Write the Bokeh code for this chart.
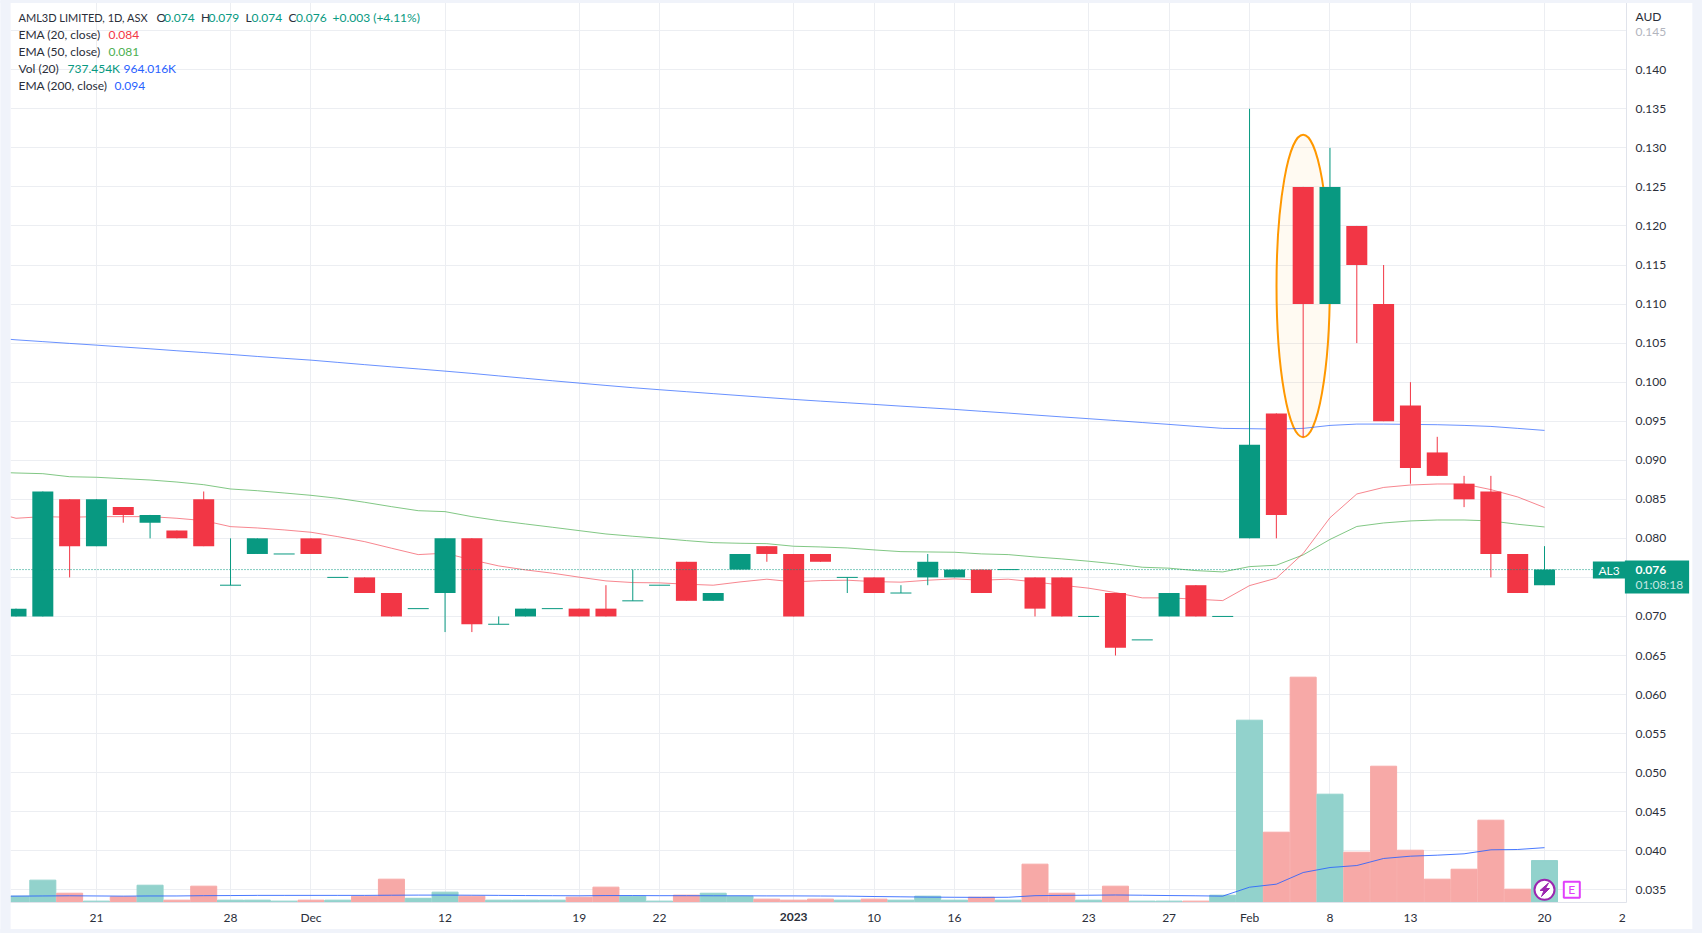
from bokeh.plotting import figure
from bokeh.embed import file_html
from bokeh.resources import INLINE
from bokeh.models import (Range1d, FixedTicker, Label, Span, ColumnDataSource)
from bokeh.core.properties import value

# ---------- data ----------
opens = [.070,.070,.085,.079,.084,.082,.081,.085,.074,.078,.078,.080,.075,.075,.073,.071,.073,.080,.069,.070,
         .071,.071,.071,.072,.074,.077,.072,.076,.079,.078,.078,.075,.075,.073,.075,.075,.076,.076,.075,.075,
         .070,.073,.067,.070,.074,.070,.080,.096,.125,.110,.120,.110,.097,.091,.087,.086,.078,.074]
closes = [.071,.086,.079,.085,.083,.083,.080,.079,.074,.080,.078,.078,.075,.073,.070,.071,.080,.069,.069,.071,
          .071,.070,.070,.072,.074,.072,.073,.078,.078,.070,.077,.075,.073,.073,.077,.076,.073,.076,.071,.070,
          .070,.066,.067,.073,.070,.070,.092,.083,.110,.125,.115,.095,.089,.088,.085,.078,.073,.076]
highs = [.071,.086,.085,.085,.084,.083,.081,.086,.080,.080,.078,.080,.075,.075,.073,.071,.080,.080,.070,.071,
         .071,.071,.074,.076,.074,.077,.073,.078,.079,.078,.078,.075,.075,.074,.078,.076,.076,.076,.075,.075,
         .070,.073,.067,.073,.074,.070,.135,.096,.125,.130,.120,.115,.100,.093,.088,.088,.078,.079]
lows = [.070,.070,.075,.079,.082,.080,.080,.079,.074,.078,.078,.078,.075,.073,.070,.071,.068,.068,.069,.070,
        .071,.070,.070,.072,.074,.072,.072,.076,.077,.070,.077,.073,.073,.073,.074,.075,.073,.076,.070,.070,
        .070,.065,.067,.070,.070,.070,.080,.080,.093,.110,.105,.095,.087,.088,.084,.075,.073,.074]
volumes_k = [111,393,163,24,99,304,41,287,41,41,24,41,41,111,410,74,182,111,41,41,41,93,270,111,24,129,163,111,
             59,41,59,41,59,41,111,41,93,41,674,163,41,287,24,24,24,128,3205,1236,3961,1904,884,2396,919,410,
             585,1447,234,737]
vol_colors = ["u","u","d","u","d","u","d","d","u","u","u","d","u","d","d","u","u","d","u","u","u","d","d","u",
              "u","d","u","u","d","d","d","u","d","u","u","u","d","u","d","d","u","d","u","u","d","u","u","d",
              "d","u","d","d","d","d","d","d","d","u"]
# the line series start one session before the first visible candle
ema20 = [.0835,.08257,.08278,.08270,.08278,.08278,.08278,.08257,.08227,.08150,.08133,.08108,.08078,.08022,.07958,
         .07874,.07792,.07810,.07724,.07647,.07596,.07554,.07503,.07455,.07434,.07430,.07413,.07400,.07442,.07477,
         .07442,.07459,.07464,.07446,.07439,.07464,.07481,.07464,.07477,.07442,.07400,.07362,.07306,.07238,.07238,
         .07221,.07203,.07395,.07490,.07806,.08264,.08568,.08652,.08683,.08696,.08696,.08624,.08530,.08395]
ema50 = [.0885,.08837,.08828,.08789,.08782,.08764,.08747,.08721,.08687,.08632,.08610,.08581,.08551,.08513,.08462,
         .08406,.08354,.08342,.08278,.08227,.08184,.08142,.08099,.08056,.08027,.08001,.07971,.07945,.07937,.07932,
         .07899,.07890,.07877,.07852,.07830,.07826,.07822,.07801,.07792,.07762,.07737,.07707,.07673,.07630,.07618,
         .07587,.07570,.07638,.07656,.07788,.07986,.08152,.08197,.08223,.08235,.08235,.08223,.08180,.08146]
ema200 = [.1057,.10542,.10519,.10496,.10474,.10450,.10427,.10402,.10379,.10355,.10329,.10305,.10282,.10253,.10224,
          .10196,.10169,.10141,.10112,.10080,.10049,.10018,.09988,.09958,.09929,.09903,.09878,.09853,.09828,.09803,
          .09779,.09757,.09736,.09715,.09693,.09672,.09651,.09627,.09604,.09579,.09555,.09532,.09508,.09483,.09459,
          .09433,.09408,.09404,.09399,.09408,.09446,.09463,.09463,.09459,.09455,.09446,.09433,.09408,.09382]
vol_ma_k = [110,112,115,118,115,112,115,115,120,122,125,125,125,125,125,128,130,130,128,125,122,120,118,122,122,
            120,120,118,118,116,116,114,112,105,100,95,92,90,92,120,125,128,132,128,122,118,112,269,322,527,615,
            650,774,814,832,856,926,932,964]
price_ticks = [.035,.040,.045,.050,.055,.060,.065,.070,.075,.080,.085,.090,.095,.100,.105,.110,.115,.120,.125,.130,.135,.140,.145]
time_tick_idx = [3,8,11,16,21,24,29,32,35,40,43,46,49,52,57]
time_tick_txt = ["21","28","Dec","12","19","22","2023","10","16","23","27","Feb","8","13","20"]

# ---------- scales: page pixels -> data ----------
BAR = 26.816
PXP = 7810.0
def dx(px): return (px - 15.5) / BAR
def dy(py): return 0.135 - (py - 108.3) / PXP

GREEN, RED = "#089981", "#f23645"
GRID = "#f0f3fa"; GRIDLINE = "#eceef2"; EDGE = "#e0e3eb"; INK = "#2a2e39"
FONT = "Lato"

p = figure(width=1702, height=933, frame_width=1616, frame_height=900,
           min_border_left=10, min_border_right=0, min_border_top=2, min_border_bottom=0,
           x_range=Range1d(dx(10), dx(1626)), y_range=Range1d(dy(902), dy(2)),
           y_axis_location="right", output_backend="svg", toolbar_location=None,
           border_fill_color="white", background_fill_color="white")
p.outline_line_color = None
p.extra_y_ranges = {"vol": Range1d(0, 900 * 17.58)}

p.ygrid.ticker = FixedTicker(ticks=price_ticks)
p.xgrid.ticker = FixedTicker(ticks=time_tick_idx)
p.ygrid.grid_line_color = GRIDLINE
p.xgrid.grid_line_color = GRIDLINE

ax = p.yaxis[0]
ax.ticker = FixedTicker(ticks=price_ticks[:-1])
ax.major_label_overrides = {t: f"{t:.3f}" for t in price_ticks[:-1]}
ax.major_tick_line_color = None; ax.minor_tick_line_color = None
ax.major_tick_out = 0; ax.major_tick_in = 0; ax.minor_tick_out = 0
ax.axis_line_color = EDGE
ax.major_label_standoff = 9
ax.major_label_text_font = FONT; ax.major_label_text_font_size = "12px"; ax.major_label_text_color = INK

bx = p.xaxis[0]
tick_vals = [i for i, t in zip(time_tick_idx, time_tick_txt) if t != "2023"] + [59.9]
bx.ticker = FixedTicker(ticks=tick_vals)
ov = {i: t for i, t in zip(time_tick_idx, time_tick_txt) if t != "2023"}
ov[59.9] = "2"
bx.major_label_overrides = ov
bx.major_tick_line_color = None; bx.minor_tick_line_color = None
bx.major_tick_out = 0; bx.major_tick_in = 0; bx.minor_tick_out = 0
bx.axis_line_color = EDGE
bx.major_label_standoff = 7
bx.major_label_text_font = FONT; bx.major_label_text_font_size = "12px"; bx.major_label_text_color = INK

# ---------- volume ----------
xs = list(range(len(opens)))
vsrc = ColumnDataSource(dict(x=xs, top=volumes_k,
        c=["#92d2cc" if v == "u" else "#f7a9a7" for v in vol_colors]))
p.vbar(x="x", top="top", bottom=0, width=0.97, color="c", source=vsrc, y_range_name="vol")

# ---------- marker ellipse behind the candles ----------
p.ellipse(x=[48], y=[dy(285.5)], width=[53.3 / BAR], height=[302.4 / PXP],
          fill_color="#ff9800", fill_alpha=0.05, line_color="#ff9800", line_width=2)

# ---------- last price line ----------
p.add_layout(Span(location=closes[-1], dimension="width", line_color=GREEN, line_width=1, line_dash="1 2"))

# ---------- lines ----------
lx = list(range(-1, len(opens)))
p.line(lx, vol_ma_k, color="#2962ff", line_width=1, line_alpha=0.85, y_range_name="vol")
p.line(lx, ema200, color="#2962ff", line_width=1, line_alpha=0.7)
p.line(lx, ema50, color="#4caf50", line_width=1, line_alpha=0.7)
p.line(lx, ema20, color="#f23645", line_width=1, line_alpha=0.6)

# ---------- candles ----------
col = [GREEN if c >= o else RED for o, c in zip(opens, closes)]
p.segment(xs, highs, xs, lows, color=col, line_width=1)
body = [i for i in xs if opens[i] != closes[i]]
p.vbar(x=body, top=[max(opens[i], closes[i]) for i in body], bottom=[min(opens[i], closes[i]) for i in body],
       width=21 / BAR, fill_color=[col[i] for i in body], line_color=None)
flat = [i for i in xs if opens[i] == closes[i]]
hw = 10.5 / BAR
p.segment([i - hw for i in flat], [closes[i] for i in flat], [i + hw for i in flat], [closes[i] for i in flat],
          color=[col[i] for i in flat], line_width=1)

# ---------- event badges ----------
p.scatter(x=[57], y=[dy(889.3)], size=20, marker="circle", fill_color="white", line_color="#9c27b0", line_width=2)
p.scatter(x=[dx(1571.3)], y=[dy(889.3)], size=16, marker="square", fill_color="white", line_color="#e040fb", line_width=2)
bolt_x = [1548, 1539.5, 1543.5, 1541, 1549, 1545]
bolt_y = [882.5, 890, 890, 896, 888, 888]
p.patch([dx(v) for v in bolt_x], [dy(v) for v in bolt_y], color="#9c27b0")
p.text(x=[dx(1571.3)], y=[dy(889.3)], text=["E"], text_align="center", text_baseline="middle",
       text_color="#e040fb", text_font_size="12px", text_font=value(FONT))

# ---------- helpers for overlays (side panels are not clipped to the frame) ----------
def lab(x, y, txt, color=INK, size="12px", style="normal", align="left", side="center", **kw):
    p.add_layout(Label(x=dx(x), y=dy(y), text=txt, text_color=color, text_font=FONT, text_font_size=size,
                       text_font_style=style, text_align=align, text_baseline="middle", **kw), side)
def rect(l, r, t, b, color):
    lab((l + r) / 2, (t + b) / 2, " ", size="1px", align="center", side="right", background_fill_color=color,
        padding=(round((r - l) / 2), round((b - t) / 2)))

# outer band
rect(0, 10, 0, 933, GRID); rect(1692, 1702, 0, 933, GRID); rect(0, 1702, 929, 933, GRID); rect(0, 1702, 0, 2, GRID)

# price tags
rect(1593, 1624, 561, 578, GREEN)
rect(1625, 1688, 561, 592, GREEN)
lab(1608.5, 569.5, "AL3", "white", align="center", side="right")
lab(1635, 569.5, "0.076", "white", style="bold", side="right")
lab(1635, 584, "01:08:18", "#c6e6e0", side="right")

# legend
lab(18, 17, "AML3D LIMITED, 1D, ASX", size="11px")
for x, t, c in [(156, "O", INK), (163.5, "0.074", GREEN), (200.5, "H", INK), (208, "0.079", GREEN),
                (245, "L", INK), (251, "0.074", GREEN), (288, "C", INK), (295.5, "0.076", GREEN),
                (332, "+0.003 (+4.11%)", GREEN)]:
    lab(x, 17, t, c)
lab(18, 34, "EMA (20, close)"); lab(108, 34, "0.084", "#f23645")
lab(18, 51, "EMA (50, close)"); lab(108, 51, "0.081", "#4caf50")
lab(18, 68, "Vol (20)"); lab(67, 68, "737.454K", GREEN); lab(123, 68, "964.016K", "#2962ff")
lab(18, 85, "EMA (200, close)"); lab(114, 85, "0.094", "#2962ff")

# axis extras
lab(1635, 15.5, "AUD", side="right")
lab(1635, 31, "0.145", "#b2b5be", side="right")
lab(time_tick_idx[6] * BAR + 15.5, 916, "2023", style="bold", align="center", side="below")

open("out.html", "w").write(file_html(p, INLINE))
